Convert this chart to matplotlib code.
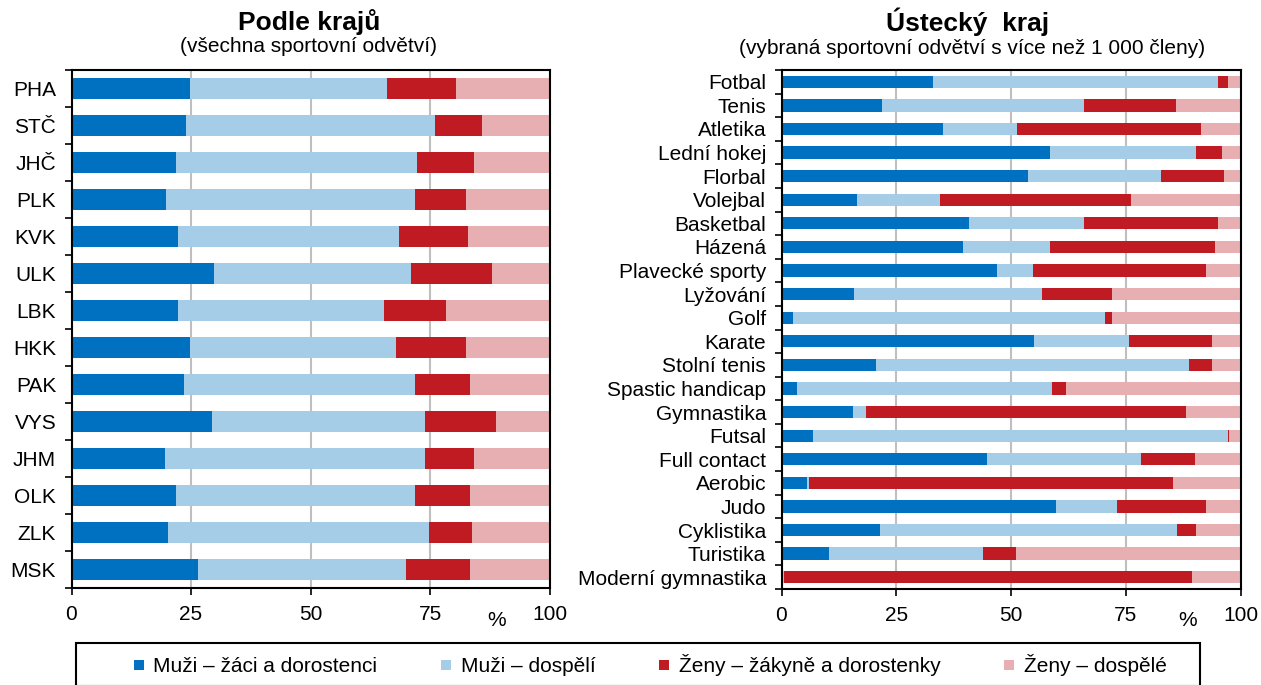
import matplotlib
matplotlib.use("Agg")
import matplotlib.pyplot as plt
from matplotlib.lines import Line2D
from matplotlib.patches import Rectangle
import numpy as np

plt.rcParams['font.family'] = ['Liberation Sans', 'DejaVu Sans']

# ---- data (shares in %) ----
regions = ["PHA", "STČ", "JHČ", "PLK", "KVK", "ULK", "LBK", "HKK", "PAK", "VYS",
           "JHM", "OLK", "ZLK", "MSK"]
reg_muzi_zaci = [24.8, 23.9, 21.9, 19.8, 22.3, 29.8, 22.3, 24.8, 23.5, 29.4, 19.5, 21.9, 20.2, 26.4]
reg_muzi_dosp = [41.3, 52.2, 50.4, 52.1, 46.3, 41.3, 43.0, 43.0, 48.4, 44.6, 54.5, 50.0, 54.6, 43.5]
reg_zeny_zac = [14.4, 9.8, 11.9, 10.7, 14.4, 16.9, 13.1, 14.8, 11.5, 14.8, 10.2, 11.5, 9.0, 13.5]
reg_zeny_dosp = [19.5, 14.1, 15.8, 17.4, 17.0, 12.0, 21.6, 17.4, 16.6, 11.2, 15.8, 16.6, 16.2, 16.6]

sports = ["Fotbal", "Tenis", "Atletika", "Lední hokej", "Florbal", "Volejbal",
          "Basketbal", "Házená", "Plavecké sporty", "Lyžování", "Golf", "Karate",
          "Stolní tenis", "Spastic handicap", "Gymnastika", "Futsal", "Full contact",
          "Aerobic", "Judo", "Cyklistika", "Turistika", "Moderní gymnastika"]
sp_muzi_zaci = [33.1, 21.9, 35.2, 58.5, 53.7, 16.4, 40.9, 39.6, 46.9, 15.9, 2.5, 55.1,
                20.6, 3.3, 15.5, 6.8, 44.7, 5.6, 59.8, 21.5, 10.3, 0.4]
sp_muzi_dosp = [62.0, 43.9, 16.0, 31.9, 28.9, 18.1, 24.9, 18.9, 7.8, 40.9, 68.0, 20.6,
                68.1, 55.7, 3.0, 90.5, 33.6, 0.4, 13.4, 64.6, 33.6, 0.1]
sp_zeny_zac = [2.1, 20.2, 40.1, 5.5, 13.7, 41.6, 29.2, 36.0, 37.7, 15.1, 1.4, 18.0,
               5.0, 2.9, 69.7, 0.3, 11.7, 79.2, 19.2, 4.3, 7.2, 89.0]
sp_zeny_dosp = [2.8, 14.0, 8.7, 4.1, 3.7, 23.9, 5.0, 5.5, 7.6, 28.1, 28.1, 6.3,
                6.3, 38.1, 11.8, 2.4, 10.0, 14.8, 7.6, 9.6, 48.9, 10.5]

series_labels = ["Muži – žáci a dorostenci", "Muži – dospělí",
                 "Ženy – žákyně a dorostenky", "Ženy – dospělé"]
colors = ["#0070C0", "#A6CDE7", "#C01A22", "#E7AFB1"]
xticks = [0, 25, 50, 75, 100]

FS = 15
W, H = 1261, 685
fig = plt.figure(figsize=(W / 100, H / 100), dpi=100)


def draw(ax, cats, series, height):
    n = len(cats)
    y = np.arange(n)
    left = np.zeros(n)
    for vals, c in zip(series, colors):
        v = np.array(vals, dtype=float)
        ax.barh(y, v, left=left, height=height, color=c, linewidth=0, zorder=2)
        left += v
    ax.set_ylim(n - 0.5, -0.5)
    ax.set_xlim(0, 100)
    ax.set_yticks(y)
    ax.set_yticklabels(cats, fontsize=FS)
    ax.set_yticks(np.arange(-0.5, n, 1.0), minor=True)
    ax.tick_params(axis='y', which='major', length=0, pad=11)
    ax.tick_params(axis='y', which='minor', length=5, width=1.2, direction='out')
    ax.set_xticks(xticks)
    ax.set_xticklabels([str(t) for t in xticks], fontsize=FS)
    ax.tick_params(axis='x', which='major', length=5, width=1.2, direction='out', pad=7)
    ax.grid(axis='x', color='#BFBFBF', linewidth=1.5, zorder=0)
    ax.set_axisbelow(True)
    for s in ax.spines.values():
        s.set_color('black')
        s.set_linewidth(1.5)


ax1 = fig.add_axes([71.5 / W, 1 - 588 / H, (549.5 - 71.5) / W, (588 - 70) / H])
draw(ax1, regions, [reg_muzi_zaci, reg_muzi_dosp, reg_zeny_zac, reg_zeny_dosp], 0.55)

ax2 = fig.add_axes([781.5 / W, 1 - 589 / H, (1240.5 - 781.5) / W, (589 - 70) / H])
draw(ax2, sports, [sp_muzi_zaci, sp_muzi_dosp, sp_zeny_zac, sp_zeny_dosp], 0.52)

# titles
fig.text(309 / W, 1 - 22 / H, "Podle krajů", ha='center', va='center',
         fontsize=19, fontweight='bold')
fig.text(308 / W, 1 - 47 / H, "(všechna sportovní odvětví)", ha='center',
         va='center', fontsize=15)
fig.text(968 / W, 1 - 22 / H, "Ústecký  kraj", ha='center', va='center',
         fontsize=19, fontweight='bold')
fig.text(972 / W, 1 - 48 / H, "(vybraná sportovní odvětví s více než 1 000 členy)",
         ha='center', va='center', fontsize=15)

# % labels
fig.text(497 / W, 1 - 621 / H, "%", ha='center', va='center', fontsize=FS)
fig.text(1188 / W, 1 - 621 / H, "%", ha='center', va='center', fontsize=FS)

# legend
fig.patches.append(Rectangle((76 / W, 1 - 686 / H), (1200 - 76) / W, (686 - 643) / H,
                             transform=fig.transFigure, fill=False,
                             edgecolor='black', linewidth=1.5))
handles = [Line2D([], [], marker='s', linestyle='none', markersize=6.5,
                  markerfacecolor=c, markeredgewidth=0) for c in colors]
fig.legend(handles, series_labels, loc='center', ncol=4,
           bbox_to_anchor=(649 / W, 1 - 665 / H), frameon=False, fontsize=FS,
           handletextpad=0.35, columnspacing=2.95, handlelength=0.7)

fig.savefig("out.png", dpi=100)
